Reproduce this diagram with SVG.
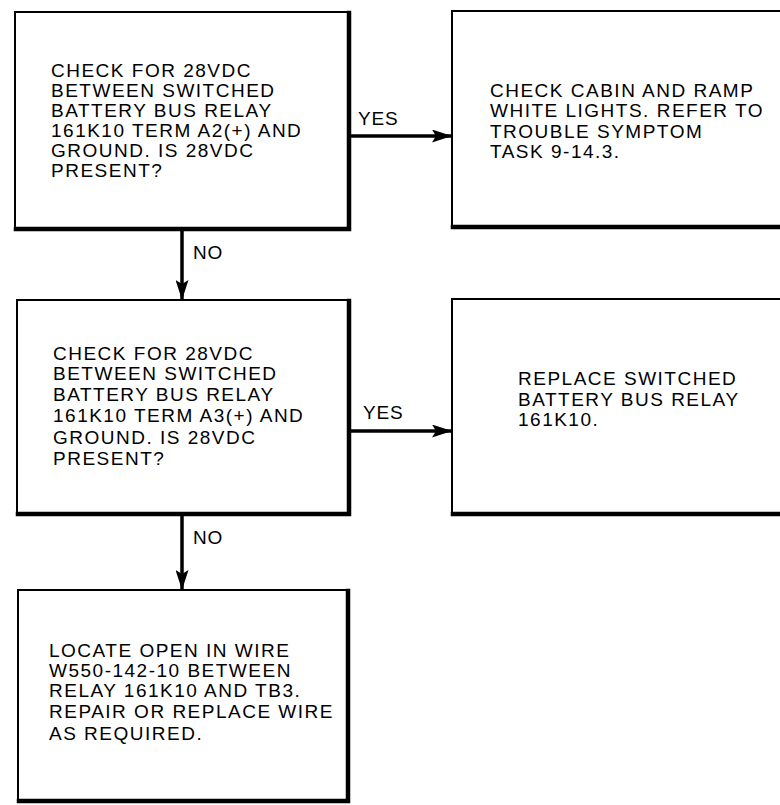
<svg xmlns="http://www.w3.org/2000/svg" width="780" height="805" viewBox="0 0 780 805">
<style>
.box{fill:#fff;stroke:#000;stroke-width:2}
.heavy{fill:none;stroke:#000;stroke-width:4.5;stroke-linecap:square}
.t{font-family:"Liberation Sans",Arial,sans-serif;font-size:19px;letter-spacing:1.5px;fill:#000}
.lbl{font-family:"Liberation Sans",Arial,sans-serif;font-size:19px;letter-spacing:0.8px;fill:#000}
.wire{fill:none;stroke:#000;stroke-width:3.5}
</style>
<defs>
<marker id="ah" viewBox="0 0 20 13" refX="19" refY="6.5" markerWidth="20" markerHeight="13" markerUnits="userSpaceOnUse" orient="auto">
<path d="M0,0 L20,6.5 L0,13 L4,6.5 Z" fill="#000"/>
</marker>
</defs>
<rect width="780" height="805" fill="#fff"/>
<g id="connectors">
<line class="wire" x1="350" y1="136" x2="451" y2="136" marker-end="url(#ah)"/>
<line class="wire" x1="182" y1="230" x2="182" y2="299" marker-end="url(#ah)"/>
<line class="wire" x1="350" y1="431" x2="451" y2="431" marker-end="url(#ah)"/>
<line class="wire" x1="182" y1="515" x2="182" y2="589" marker-end="url(#ah)"/>
<text class="lbl" x="358" y="125">YES</text>
<text class="lbl" x="193" y="259">NO</text>
<text class="lbl" x="363" y="419">YES</text>
<text class="lbl" x="193" y="544">NO</text>
</g>
<g id="n1">
<rect class="box" x="15" y="12" width="334" height="217"/>
<path class="heavy" d="M349,13 V229 H16"/>
<text class="t"><tspan x="51" y="77">CHECK FOR 28VDC</tspan><tspan x="51" y="97">BETWEEN SWITCHED</tspan><tspan x="51" y="117">BATTERY BUS RELAY</tspan><tspan x="51" y="137">161K10 TERM A2(+) AND</tspan><tspan x="51" y="157">GROUND. IS 28VDC</tspan><tspan x="51" y="177">PRESENT?</tspan></text>
</g>
<g id="n2">
<rect class="box" x="452" y="11" width="340" height="216"/>
<path class="heavy" d="M453,227 H792"/>
<text class="t"><tspan x="490" y="97">CHECK CABIN AND RAMP</tspan><tspan x="490" y="117">WHITE LIGHTS. REFER TO</tspan><tspan x="490" y="138">TROUBLE SYMPTOM</tspan><tspan x="490" y="158">TASK 9-14.3.</tspan></text>
</g>
<g id="n3">
<rect class="box" x="17" y="300" width="332" height="214"/>
<path class="heavy" d="M349,301 V514 H18"/>
<text class="t"><tspan x="53" y="360">CHECK FOR 28VDC</tspan><tspan x="53" y="380">BETWEEN SWITCHED</tspan><tspan x="53" y="401">BATTERY BUS RELAY</tspan><tspan x="53" y="422">161K10 TERM A3(+) AND</tspan><tspan x="53" y="444">GROUND. IS 28VDC</tspan><tspan x="53" y="465">PRESENT?</tspan></text>
</g>
<g id="n4">
<rect class="box" x="452" y="299" width="340" height="215"/>
<path class="heavy" d="M453,514 H792"/>
<text class="t"><tspan x="518" y="385">REPLACE SWITCHED</tspan><tspan x="518" y="406">BATTERY BUS RELAY</tspan><tspan x="518" y="426">161K10.</tspan></text>
</g>
<g id="n5">
<rect class="box" x="18" y="590" width="330" height="211"/>
<path class="heavy" d="M348,591 V801 H19"/>
<text class="t"><tspan x="49" y="657">LOCATE OPEN IN WIRE</tspan><tspan x="49" y="677">W550-142-10 BETWEEN</tspan><tspan x="49" y="697">RELAY 161K10 AND TB3.</tspan><tspan x="49" y="718">REPAIR OR REPLACE WIRE</tspan><tspan x="49" y="740">AS REQUIRED.</tspan></text>
</g>
</svg>
